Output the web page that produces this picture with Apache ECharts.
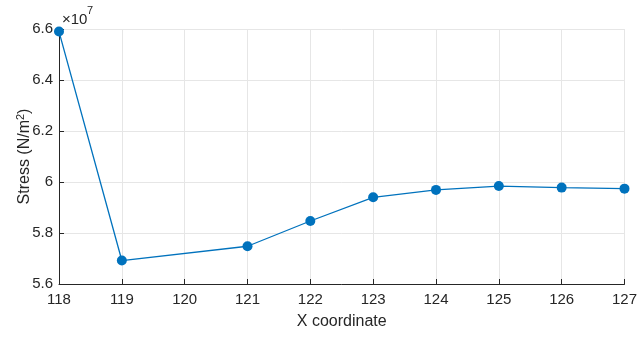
<!DOCTYPE html>
<html>
<head>
<meta charset="utf-8">
<script src="https://cdn.jsdelivr.net/npm/echarts@6/dist/echarts.min.js"></script>
<style>
  html, body { margin: 0; padding: 0; background: #fff; }
  #chart { width: 640px; height: 338px; }
</style>
</head>
<body>
<div id="chart"></div>
<script>
// Stress along the X coordinate (N/m^2)
const xCoords = [118, 119, 121, 122, 123, 124, 125, 126, 127];
const stress = [6.59e7, 5.692e7, 5.748e7, 5.847e7, 5.940e7, 5.969e7, 5.984e7, 5.978e7, 5.974e7];
const yExponent = 7;

const FONT = 'Liberation Sans, Arial, Helvetica, sans-serif';
const AXIS_COLOR = '#262626';
const GRID_COLOR = '#e6e6e6';

const chart = echarts.init(document.getElementById('chart'), null, { renderer: 'canvas' });

const scale = Math.pow(10, yExponent);

chart.setOption({
  animation: false,
  backgroundColor: '#fff',
  // exponent marker above the y axis: base and superscript
  title: [{
    text: '×10',
    left: 62, top: 12,
    padding: 0,
    textStyle: { fontSize: 15, fontWeight: 'normal', fontFamily: FONT, color: AXIS_COLOR }
  }, {
    text: String(yExponent),
    left: 87, top: 5,
    padding: 0,
    textStyle: { fontSize: 11, fontWeight: 'normal', fontFamily: FONT, color: AXIS_COLOR }
  }],
  grid: { left: 59, right: 12, top: 29, bottom: 54, containLabel: false },
  xAxis: {
    type: 'value',
    min: 118, max: 127, interval: 1,
    name: 'X coordinate',
    nameLocation: 'middle',
    nameGap: 30,
    nameMoveOverlap: false,
    nameTextStyle: { color: AXIS_COLOR, fontFamily: FONT, fontSize: 16 },
    axisLine: { show: true, onZero: false, lineStyle: { color: AXIS_COLOR, width: 1 } },
    axisTick: { show: true, inside: true, length: 5, lineStyle: { color: AXIS_COLOR } },
    axisLabel: { color: AXIS_COLOR, fontFamily: FONT, fontSize: 15, margin: 8 },
    splitLine: { show: true, lineStyle: { color: GRID_COLOR, width: 1 } }
  },
  yAxis: {
    type: 'value',
    min: 5.6e7, max: 6.6e7, interval: 0.2e7,
    name: 'Stress (N/m{sup|2})',
    nameLocation: 'middle',
    nameGap: 25,
    nameMoveOverlap: false,
    nameRotate: 90,
    nameTextStyle: {
      color: AXIS_COLOR, fontFamily: FONT, fontSize: 16,
      rich: {
        sup: { fontSize: 11, verticalAlign: 'top', padding: [0, 0, 8, 0], color: AXIS_COLOR, fontFamily: FONT }
      }
    },
    axisLine: { show: true, lineStyle: { color: AXIS_COLOR, width: 1 } },
    axisTick: { show: true, inside: true, length: 5, lineStyle: { color: AXIS_COLOR } },
    axisLabel: {
      color: AXIS_COLOR, fontFamily: FONT, fontSize: 15, margin: 6,
      formatter: v => String(Math.round(v / scale * 10) / 10)
    },
    splitLine: { show: true, lineStyle: { color: GRID_COLOR, width: 1 } }
  },
  series: [{
    type: 'line',
    data: xCoords.map((x, i) => [x, stress[i]]),
    symbol: 'circle',
    symbolSize: 10,
    clip: false,
    lineStyle: { color: '#0072BD', width: 1.3 },
    itemStyle: { color: '#0072BD' }
  }]
});
</script>
</body>
</html>
